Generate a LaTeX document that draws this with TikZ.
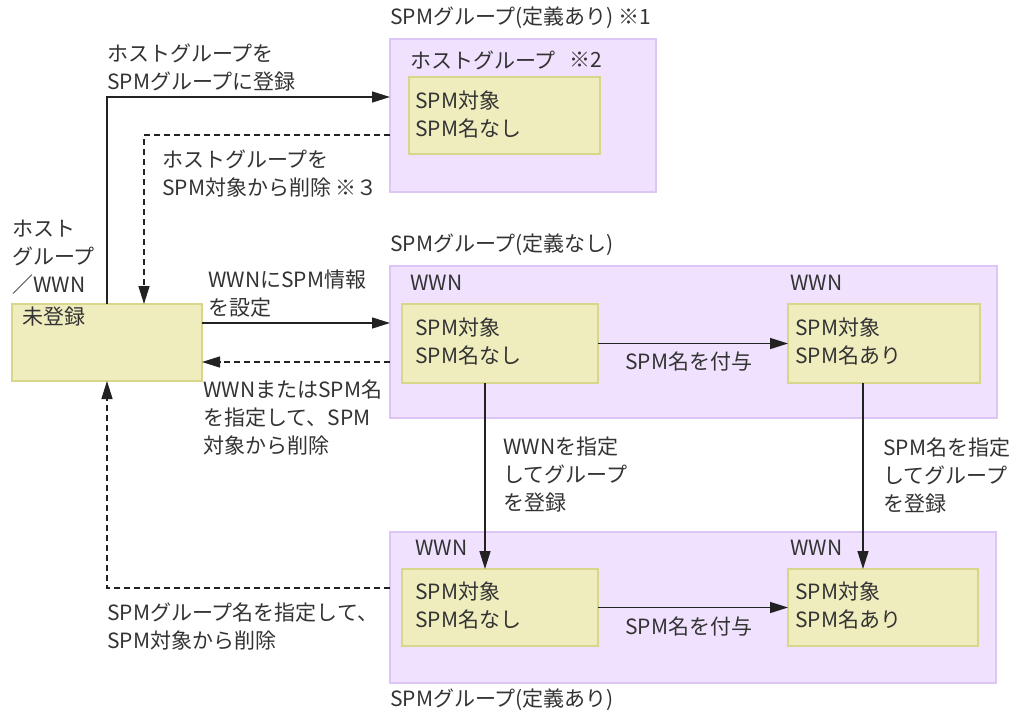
\documentclass[tikz,border=0pt]{standalone}
\usepackage{fontspec}
\setmainfont{Noto Sans CJK JP}
\usetikzlibrary{arrows.meta}
\definecolor{pfill}{HTML}{F0E2FE}
\definecolor{pdraw}{HTML}{DDC6F5}
\definecolor{yfill}{HTML}{EFEDBE}
\definecolor{ydraw}{HTML}{D8D68A}
\definecolor{txt}{HTML}{333333}
\definecolor{ln}{HTML}{222222}
\begin{document}
\begin{tikzpicture}[x=1pt,y=-1pt,
  box/.style={inner sep=0pt, outer sep=0pt, line width=1.2pt},
  grp/.style={box, draw=pdraw, fill=pfill},
  ybox/.style={box, draw=ydraw, fill=yfill},
  lbl/.style={anchor=west, inner sep=0pt, text=txt, align=left,
              font=\fontsize{21}{28}\selectfont},
  conn/.style={draw=ln, line width=1.4pt, -{Triangle[length=18pt 0 0,width=11pt 0 0]}},
  dconn/.style={conn, dash pattern=on 6pt off 4pt}]
\useasboundingbox[fill=white] (0,0) rectangle (1023,715);

% group boxes
\node[grp, minimum width=266pt, minimum height=153pt] (topgrp) at (523,115.5) {};
\node[grp, minimum width=607pt, minimum height=152pt] (midgrp) at (693.5,342) {};
\node[grp, minimum width=606pt, minimum height=151pt] (botgrp) at (693,607.5) {};

% yellow boxes
\node[ybox, minimum width=191pt, minimum height=77pt] (tyb) at (504.5,115.5) {};
\node[ybox, minimum width=196pt, minimum height=79pt] (myl) at (500,343.5) {};
\node[ybox, minimum width=192pt, minimum height=79pt] (myr) at (884,343.5) {};
\node[ybox, minimum width=196pt, minimum height=77pt] (byl) at (500,607.5) {};
\node[ybox, minimum width=190pt, minimum height=77pt] (byr) at (883,607.5) {};
\node[ybox, minimum width=190pt, minimum height=77pt] (unreg) at (107,342.5) {};

% helper coordinates
\coordinate (a1) at (0,97);
\coordinate (a2) at (0,135);
\coordinate (a3) at (144,0);
\coordinate (a4) at (0,323);
\coordinate (a5) at (0,362);
\coordinate (a7) at (485,0);
\coordinate (a8) at (863,0);
\coordinate (a9) at (0,588);

% connectors
\draw[conn] (unreg.north) |- (topgrp.west |- a1);
\draw[dconn] (topgrp.west |- a2) -| (unreg.north -| a3);
\draw[conn] (unreg.east |- a4) -- (midgrp.west |- a4);
\draw[dconn] (midgrp.west |- a5) -- (unreg.east |- a5);
\draw[conn] (myl.east) -- (myr.west);
\draw[conn] (myl.south -| a7) -- (byl.north -| a7);
\draw[conn] (myr.south -| a8) -- (byr.north -| a8);
\draw[conn] (byl.east) -- (byr.west);
\draw[dconn] (botgrp.west |- a9) -| (unreg.south);

% labels
\node[lbl] (l1) at (390,18) {SPMグループ(定義あり) ※1};
\node[lbl] (l2) at (410,60) {ホストグループ};
\node[lbl] (l2b) at (569,60) {※2};
\node[lbl] (l3) at (415,114) {SPM対象\\SPM名なし};
\node[lbl] (l4) at (107,67.5) {ホストグループを\\SPMグループに登録};
\node[lbl] (l5) at (162,174) {ホストグループを\\SPM対象から削除 ※３};
\node[lbl] (l6) at (12,257) {ホスト\\グループ\\／WWN};
\node[lbl] (l7) at (22,317) {未登録};
\node[lbl] (l8) at (208,294) {WWNにSPM情報\\を設定};
\node[lbl] (l9) at (203,418) {WWNまたはSPM名\\を指定して、SPM\\対象から削除};
\node[lbl] (l10) at (390,245) {SPMグループ(定義なし)};
\node[lbl] (l11) at (410,283) {WWN};
\node[lbl] (l12) at (790,283) {WWN};
\node[lbl] (l13) at (415,341) {SPM対象\\SPM名なし};
\node[lbl] (l14) at (795,341) {SPM対象\\SPM名あり};
\node[lbl] (l15) at (625,362) {SPM名を付与};
\node[lbl] (l16) at (503,475) {WWNを指定\\してグループ\\を登録};
\node[lbl] (l17) at (883,475) {SPM名を指定\\してグループ\\を登録};
\node[lbl] (l18) at (415,548) {WWN};
\node[lbl] (l19) at (790,548) {WWN};
\node[lbl] (l20) at (415,605.5) {SPM対象\\SPM名なし};
\node[lbl] (l21) at (795,605.5) {SPM対象\\SPM名あり};
\node[lbl] (l22) at (625,627) {SPM名を付与};
\node[lbl] (l23) at (107,626.5) {SPMグループ名を指定して、\\SPM対象から削除};
\node[lbl] (l24) at (390,700) {SPMグループ(定義あり)};
\end{tikzpicture}
\end{document}
